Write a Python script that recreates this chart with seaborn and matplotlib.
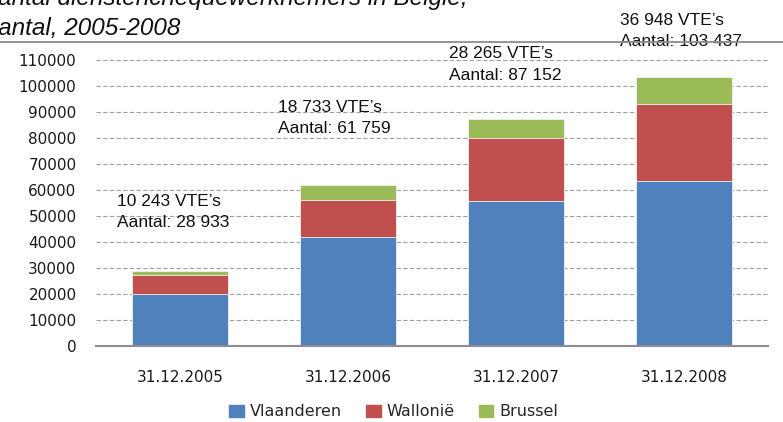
import matplotlib
matplotlib.use("Agg")
import matplotlib.pyplot as plt
import matplotlib.patches as mpatches
from matplotlib.lines import Line2D
import numpy as np
import pandas as pd
import seaborn as sns

# ---- data ----
dates = ["31.12.2005", "31.12.2006", "31.12.2007", "31.12.2008"]
vlaanderen = [20000, 41900, 55600, 63600]
wallonie = [7300, 14400, 24300, 29500]
brussel = [1633, 5459, 7252, 10337]
vte_labels = ["10 243 VTE\u2019s", "18 733 VTE\u2019s", "28 265 VTE\u2019s", "36 948 VTE\u2019s"]
aantal_labels = ["Aantal: 28 933", "Aantal: 61 759", "Aantal: 87 152", "Aantal: 103 437"]
series_names = ["Vlaanderen", "Walloni\u00eb", "Brussel"]
colors = ["#4F81BD", "#C0504D", "#9BBB59"]
yticks = list(range(0, 110001, 10000))

sns.set_style("white")
plt.rcParams["font.family"] = ["DejaVu Sans"]

fig = plt.figure(figsize=(7.83, 4.22), dpi=100)
ax = fig.add_axes([96 / 783, 1 - 346 / 422, (768 - 96) / 783, (346 - 60) / 422])

df = pd.DataFrame({"date": dates, "V": vlaanderen, "W": wallonie, "B": brussel})
df["c1"] = df["V"]
df["c2"] = df["V"] + df["W"]
df["c3"] = df["V"] + df["W"] + df["B"]

for col, c in zip(["c3", "c2", "c1"], [colors[2], colors[1], colors[0]]):
    sns.barplot(data=df, x="date", y=col, color=c, width=0.57, errorbar=None,
                ax=ax, edgecolor="#f2f2f2", linewidth=0.6, saturation=1)

ax.set_ylim(0, 110000)
ax.set_xlim(-0.5, 3.5)
ax.set_yticks(yticks)
ax.set_yticklabels([str(v) for v in yticks])
ax.set_xlabel("")
ax.set_ylabel("")
ax.set_axisbelow(True)
ax.yaxis.grid(True, color="#a0a0a0", linestyle=(0, (4, 2)), linewidth=0.8)
ax.xaxis.grid(False)
for s in ["left", "right", "top"]:
    ax.spines[s].set_visible(False)
ax.spines["bottom"].set_color("#8c8c8c")
ax.spines["bottom"].set_linewidth(1.5)
ax.tick_params(axis="y", length=0, pad=14, labelsize=11, labelcolor="#1a1a1a")
ax.tick_params(axis="x", length=0, pad=17, labelsize=11, labelcolor="#1a1a1a")

# annotations (x offset within category, baselines in data units)
ann_x = [-0.375, 0.583, 1.601, 2.619]
ann_y1 = [53950, 90100, 110800, 123500]
ann_y2 = [45900, 82000, 102400, 115400]
for x, y1, y2, t1, t2 in zip(ann_x, ann_y1, ann_y2, vte_labels, aantal_labels):
    ax.text(x, y1, t1, ha="left", va="baseline", fontsize=12.5,
            family="Liberation Sans", color="#111111", clip_on=False)
    ax.text(x, y2, t2, ha="left", va="baseline", fontsize=12.5,
            family="Liberation Sans", color="#111111", clip_on=False)

# title (cut off at top-left as in reference)
fig.text(-18 / 783, 1 - 5 / 422, "Aantal dienstenchequewerknemers in Belgi\u00eb,",
         ha="left", va="baseline", fontsize=17.5, style="italic",
         family="Liberation Sans", color="#111111")
fig.text(-18 / 783, 1 - 35 / 422, "Aantal, 2005-2008",
         ha="left", va="baseline", fontsize=17.5, style="italic",
         family="Liberation Sans", color="#111111")

# separator line
fig.add_artist(Line2D([0, 1], [1 - 42 / 422, 1 - 42 / 422], transform=fig.transFigure,
                      color="#8c8c8c", linewidth=1.3))

handles = [mpatches.Patch(color=c, label=n) for c, n in zip(colors, series_names)]
fig.legend(handles=handles, loc="center", bbox_to_anchor=(394 / 783, 1 - 412 / 422),
           ncol=3, frameon=False, fontsize=11.5, handlelength=0.9, handleheight=0.7,
           handletextpad=0.4, columnspacing=1.5)

fig.savefig("out.png", dpi=100)
